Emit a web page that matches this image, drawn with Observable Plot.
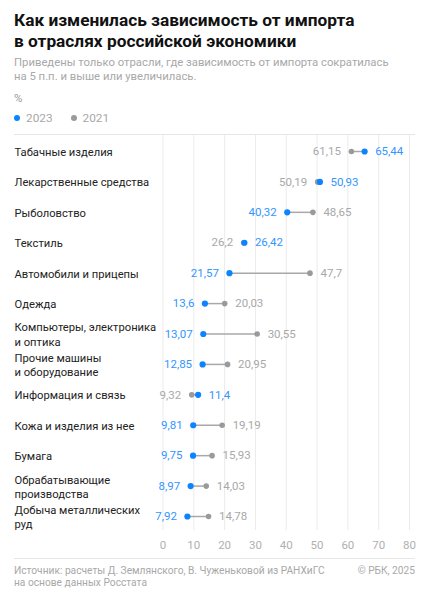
<!DOCTYPE html>
<html>
<head>
<meta charset="utf-8">
<script src="https://cdn.jsdelivr.net/npm/d3@7"></script>
<script src="https://cdn.jsdelivr.net/npm/@observablehq/plot@0.6"></script>
<style>
  html, body { margin: 0; padding: 0; background: #fff; }
  body { width: 429px; height: 600px; position: relative; font-family: Roboto, "Noto Sans", sans-serif; overflow: hidden; }
  .abs { position: absolute; white-space: nowrap; }
  #title { left: 14px; top: 9.5px; font-size: 17.3px; font-weight: 700; line-height: 21px; color: #111; }
  #sub { left: 14px; top: 56px; font-size: 11.3px; line-height: 14px; color: #a8a8a8; }
  #unit { left: 14px; top: 91px; font-size: 11.5px; line-height: 14px; color: #999; }
  #legend { left: 14px; top: 111px; font-size: 11.8px; line-height: 14px; color: #a8a8a8; display: flex; align-items: center; }
  .sw { display: inline-block; width: 6px; height: 6px; border-radius: 50%; margin-right: 6px; }
  .li { display: flex; align-items: center; margin-right: 18px; }
  #topline { left: 14px; top: 134px; width: 401px; border-top: 1px solid #e6e6e6; }
  #chart { left: 0; top: 135px; line-height: 0; }
  #chart svg { display: block; }
  #footline { left: 14px; top: 558px; width: 401px; border-top: 1px solid #e6e6e6; }
  #source { left: 14px; top: 565px; font-size: 10.2px; line-height: 12px; color: #a8a8a8; }
  #copy { right: 14px; top: 565px; font-size: 10.2px; line-height: 12px; color: #a8a8a8; }
</style>
</head>
<body>
<div id="title" class="abs">Как изменилась зависимость от импорта<br>в отраслях российской экономики</div>
<div id="sub" class="abs">Приведены только отрасли, где зависимость от импорта сократилась<br>на 5 п.п. и выше или увеличилась.</div>
<div id="unit" class="abs">%</div>
<div id="legend" class="abs">
  <span class="li"><span class="sw" style="background:#0d84ff"></span>2023</span>
  <span class="li"><span class="sw" style="background:#9a9a9a"></span>2021</span>
</div>
<div id="topline" class="abs"></div>
<div id="chart" class="abs"></div>
<div id="footline" class="abs"></div>
<div id="source" class="abs">Источник: расчеты Д. Землянского, В. Чуженьковой из РАНХиГС<br>на основе данных Росстата</div>
<div id="copy" class="abs">© РБК, 2025</div>
<script>
const categories = [
  "Табачные изделия",
  "Лекарственные средства",
  "Рыболовство",
  "Текстиль",
  "Автомобили и прицепы",
  "Одежда",
  "Компьютеры, электроника\nи оптика",
  "Прочие машины\nи оборудование",
  "Информация и связь",
  "Кожа и изделия из нее",
  "Бумага",
  "Обрабатывающие\nпроизводства",
  "Добыча металлических\nруд"
];
const values2023 = [65.44, 50.93, 40.32, 26.42, 21.57, 13.6, 13.07, 12.85, 11.4, 9.81, 9.75, 8.97, 7.92];
const values2021 = [61.15, 50.19, 48.65, 26.2, 47.7, 20.03, 30.55, 20.95, 9.32, 19.19, 15.93, 14.03, 14.78];
const xTicks = [0, 10, 20, 30, 40, 50, 60, 70, 80];

const BLUE = "#0d84ff", BLUE_TEXT = "#3396ff", GRAY = "#9a9a9a", GRAY_TEXT = "#a8a8a8";

const rows = categories.map((c, i) => ({cat: c, v2023: values2023[i], v2021: values2021[i]}));
const fmt = v => String(v).replace(".", ",");
const labels = rows.flatMap(r => [
  {cat: r.cat, v: r.v2023, year: "2023", side: r.v2023 < r.v2021 ? "left" : "right"},
  {cat: r.cat, v: r.v2021, year: "2021", side: r.v2021 < r.v2023 ? "left" : "right"}
]);

const chart = Plot.plot({
  width: 429,
  height: 420,
  marginLeft: 162.5,
  marginRight: 20,
  marginTop: 0,
  marginBottom: 25,
  style: {fontFamily: "Roboto, 'Noto Sans', sans-serif", fontSize: "11px", background: "transparent"},
  x: {domain: [0, 80], axis: null},
  y: {type: "point", domain: categories, range: [16, 381], padding: 0, round: false, axis: null},
  marks: [
    Plot.gridX(xTicks, {stroke: "#ebebeb", strokeOpacity: 1, strokeWidth: 1}),
    Plot.axisX(xTicks, {tickSize: 0, tickPadding: 10, fill: "#b0b0b0", fontSize: 11.5, tickFormat: d => String(d)}),
    Plot.text(rows, {y: "cat", text: "cat", frameAnchor: "left", dx: -148.5, textAnchor: "start", fill: "#222", fontSize: 11.2, lineHeight: 1.27}),
    Plot.ruleY(rows, {y: "cat", x1: "v2021", x2: "v2023", stroke: "#a8a8a8", strokeWidth: 1.5}),
    Plot.dot(rows, {x: "v2021", y: "cat", r: 2.8, fill: GRAY, stroke: "none"}),
    Plot.dot(rows, {x: "v2023", y: "cat", r: 3.1, fill: BLUE, stroke: "none"}),
    Plot.text(labels.filter(d => d.side === "left"), {x: "v", y: "cat", text: d => fmt(d.v), textAnchor: "end", dx: -10.5, fill: d => d.year === "2023" ? BLUE_TEXT : GRAY_TEXT, fontSize: 11.5}),
    Plot.text(labels.filter(d => d.side === "right"), {x: "v", y: "cat", text: d => fmt(d.v), textAnchor: "start", dx: 10.5, fill: d => d.year === "2023" ? BLUE_TEXT : GRAY_TEXT, fontSize: 11.5})
  ]
});
document.getElementById("chart").appendChild(chart);
</script>
</body>
</html>
